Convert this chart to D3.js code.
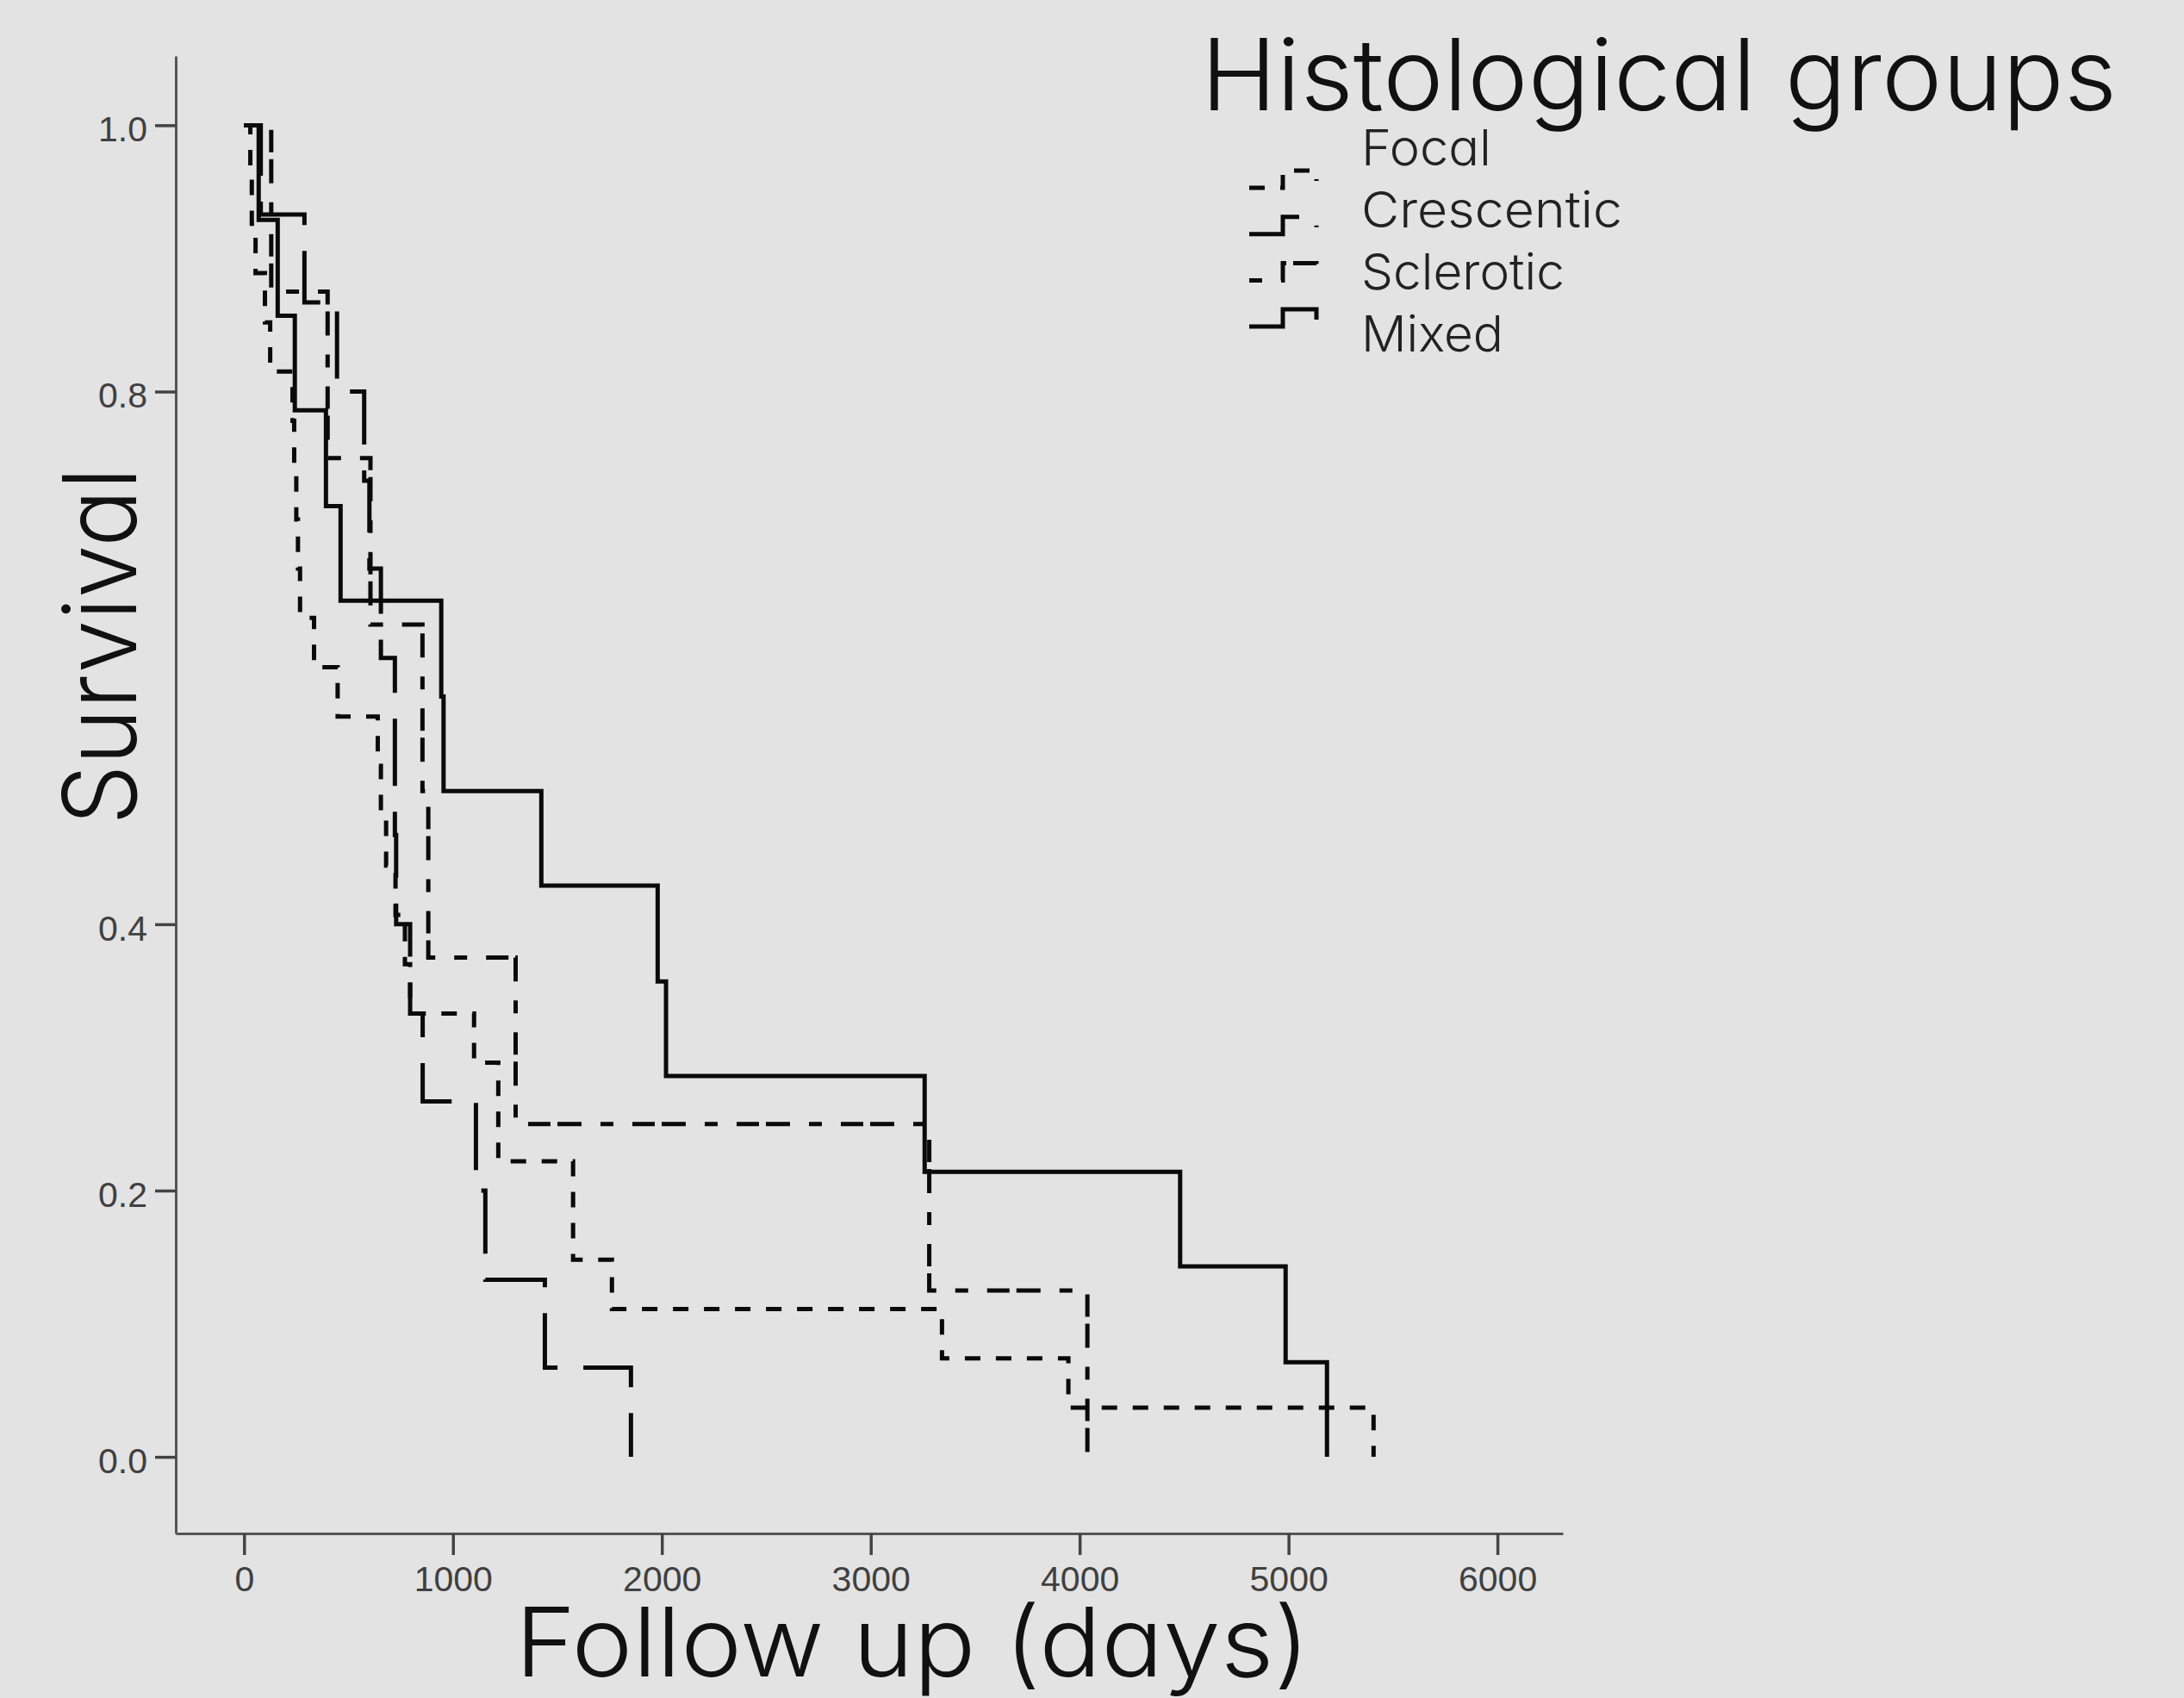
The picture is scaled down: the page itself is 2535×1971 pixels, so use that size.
<!DOCTYPE html>
<html>
<head>
<meta charset="utf-8">
<script src="https://cdn.jsdelivr.net/npm/d3@7"></script>
<style>
  html, body { margin: 0; padding: 0; background: #e3e3e3; }
  svg { display: block; }
  .tick text { font-family: "Liberation Sans", Arial, sans-serif; }
</style>
</head>
<body>
<script>
// ---------------- DATA ----------------
const categories = ["Focal", "Crescentic", "Sclerotic", "Mixed"];

const focalTime = [0, 30, 37, 55, 100, 125, 232, 240, 250, 258, 268, 335, 448, 640, 655, 680, 725, 770, 795, 1101, 1217, 1575, 1761, 3341, 3946, 5407];
const focalSurv = [1.000, 0.963, 0.926, 0.889, 0.852, 0.815, 0.778, 0.741, 0.704, 0.667, 0.630, 0.593, 0.556, 0.519, 0.481, 0.444, 0.407, 0.370, 0.333, 0.296, 0.222, 0.148, 0.111, 0.074, 0.037, 0.000];

const crescenticTime = [0, 80, 289, 445, 575, 600, 655, 722, 728, 795, 855, 1110, 1155, 1440, 1852];
const crescenticSurv = [1.000, 0.933, 0.867, 0.800, 0.733, 0.667, 0.600, 0.467, 0.400, 0.333, 0.267, 0.200, 0.133, 0.067, 0.000];

const scleroticTime = [0, 130, 400, 605, 854, 882, 1300, 3280, 4037];
const scleroticSurv = [1.000, 0.875, 0.750, 0.625, 0.500, 0.375, 0.250, 0.125, 0.000];

const mixedTime = [0, 70, 161, 243, 392, 462, 944, 955, 1423, 1980, 2020, 3258, 4481, 4986, 5184];
const mixedSurv = [1.000, 0.929, 0.857, 0.786, 0.714, 0.643, 0.571, 0.500, 0.429, 0.357, 0.286, 0.214, 0.143, 0.071, 0.000];

const xTicks = [0, 1000, 2000, 3000, 4000, 5000, 6000];
const yTicks = [0.0, 0.2, 0.4, 0.8, 1.0];   // 0.6 hidden behind the axis title in the original

const legendTitle = "Histological groups";
const xTitle = "Follow up (days)";
const yTitle = "Survival";

// ---------------- LAYOUT / STYLE ----------------
const W = 2535, H = 1971;
const bg = "#e3e3e3";
const dashes = {
  Focal: "18,18",
  Crescentic: "78,30",
  Sclerotic: "15,22,26,8,28,22",
  Mixed: null
};
const titleFont = "Inter, 'Noto Sans', sans-serif";

const series = [
  { name: "Focal", t: focalTime, s: focalSurv },
  { name: "Crescentic", t: crescenticTime, s: crescenticSurv },
  { name: "Sclerotic", t: scleroticTime, s: scleroticSurv },
  { name: "Mixed", t: mixedTime, s: mixedSurv }
];

const svg = d3.select("body").append("svg")
  .attr("width", W).attr("height", H)
  .style("background", bg);

svg.append("rect").attr("width", W).attr("height", H).attr("fill", bg);

const x = d3.scaleLinear().domain([-327, 6313]).range([204, 1814]);
const y = d3.scaleLinear().domain([-0.0575, 1.052]).range([1780, 65]);

// ---------------- AXES ----------------
const yAxis = svg.append("g")
  .attr("transform", `translate(${x.range()[0]},0)`)
  .call(d3.axisLeft(y).tickValues(yTicks).tickSize(24).tickSizeOuter(0).tickPadding(9)
    .tickFormat(d3.format(".1f")));

const xAxis = svg.append("g")
  .attr("transform", `translate(0,${y.range()[0]})`)
  .call(d3.axisBottom(x).tickValues(xTicks).tickSize(25).tickSizeOuter(0).tickPadding(13)
    .tickFormat(d3.format("d")));

[yAxis, xAxis].forEach(g => {
  g.select(".domain").attr("stroke", "#555").attr("stroke-width", 3);
  g.selectAll(".tick line").attr("stroke", "#444").attr("stroke-width", 3.5);
  g.selectAll(".tick text")
    .attr("fill", "#404040")
    .style("font-size", "41px");
});
yAxis.selectAll(".tick text").attr("dy", "0.45em");

// ---------------- CURVES ----------------
const line = d3.line()
  .x(d => x(d[0]))
  .y(d => y(d[1]))
  .curve(d3.curveStepAfter);

svg.append("g").selectAll("path")
  .data(series)
  .join("path")
  .attr("d", d => line(d.t.map((t, i) => [t, d.s[i]])))
  .attr("fill", "none")
  .attr("stroke", "#0a0a0a")
  .attr("stroke-width", 5)
  .attr("stroke-linejoin", "miter")
  .attr("stroke-dasharray", d => dashes[d.name]);

// ---------------- TITLES ----------------
svg.append("text")
  .attr("transform", "translate(158,750) rotate(-90)")
  .attr("text-anchor", "middle")
  .attr("font-family", titleFont)
  .attr("font-weight", 300)
  .style("font-feature-settings", "'cv11'")
  .attr("font-size", 118)
  .attr("fill", "#111")
  .attr("textLength", 415)
  .attr("lengthAdjust", "spacingAndGlyphs")
  .text(yTitle);

svg.append("text")
  .attr("x", 1059).attr("y", 1946)
  .attr("text-anchor", "middle")
  .attr("font-family", titleFont)
  .attr("font-weight", 300)
  .style("font-feature-settings", "'cv11'")
  .attr("font-size", 112)
  .attr("fill", "#111")
  .attr("textLength", 922)
  .attr("lengthAdjust", "spacingAndGlyphs")
  .text(xTitle);

// ---------------- LEGEND ----------------
svg.append("text")
  .attr("x", 1394).attr("y", 128)
  .attr("font-family", titleFont)
  .attr("font-weight", 300)
  .style("font-feature-settings", "'cv11'")
  .attr("font-size", 115)
  .attr("fill", "#111")
  .attr("textLength", 1063)
  .attr("lengthAdjust", "spacingAndGlyphs")
  .text(legendTitle);

const labelX = 1580, labelY0 = 192, labelStep = 72;
const symX0 = 1450, symX1 = 1489, symX2 = 1528, symY0 = 208, symStep = 53.7, symH = 20;
const labelLengths = { Focal: 151, Crescentic: 303, Sclerotic: 236, Mixed: 165 };

const leg = svg.append("g");
categories.forEach((c, i) => {
  leg.append("text")
    .attr("x", labelX).attr("y", labelY0 + i * labelStep)
    .attr("font-family", titleFont)
    .attr("font-weight", 300)
    .style("font-feature-settings", "'cv11'")
    .attr("font-size", 58)
    .attr("fill", "#222")
    .attr("textLength", labelLengths[c])
    .attr("lengthAdjust", "spacingAndGlyphs")
    .text(c);
  const cy = symY0 + i * symStep;
  const p = d3.path();
  p.moveTo(symX0, cy + symH / 2);
  p.lineTo(symX1, cy + symH / 2);
  p.lineTo(symX1, cy - symH / 2);
  p.lineTo(symX2, cy - symH / 2);
  p.lineTo(symX2, cy + symH * 0.1);
  leg.append("path")
    .attr("d", p.toString())
    .attr("fill", "none")
    .attr("stroke", "#0a0a0a")
    .attr("stroke-width", 5)
    .attr("stroke-dasharray", dashes[c]);
});
</script>
</body>
</html>
